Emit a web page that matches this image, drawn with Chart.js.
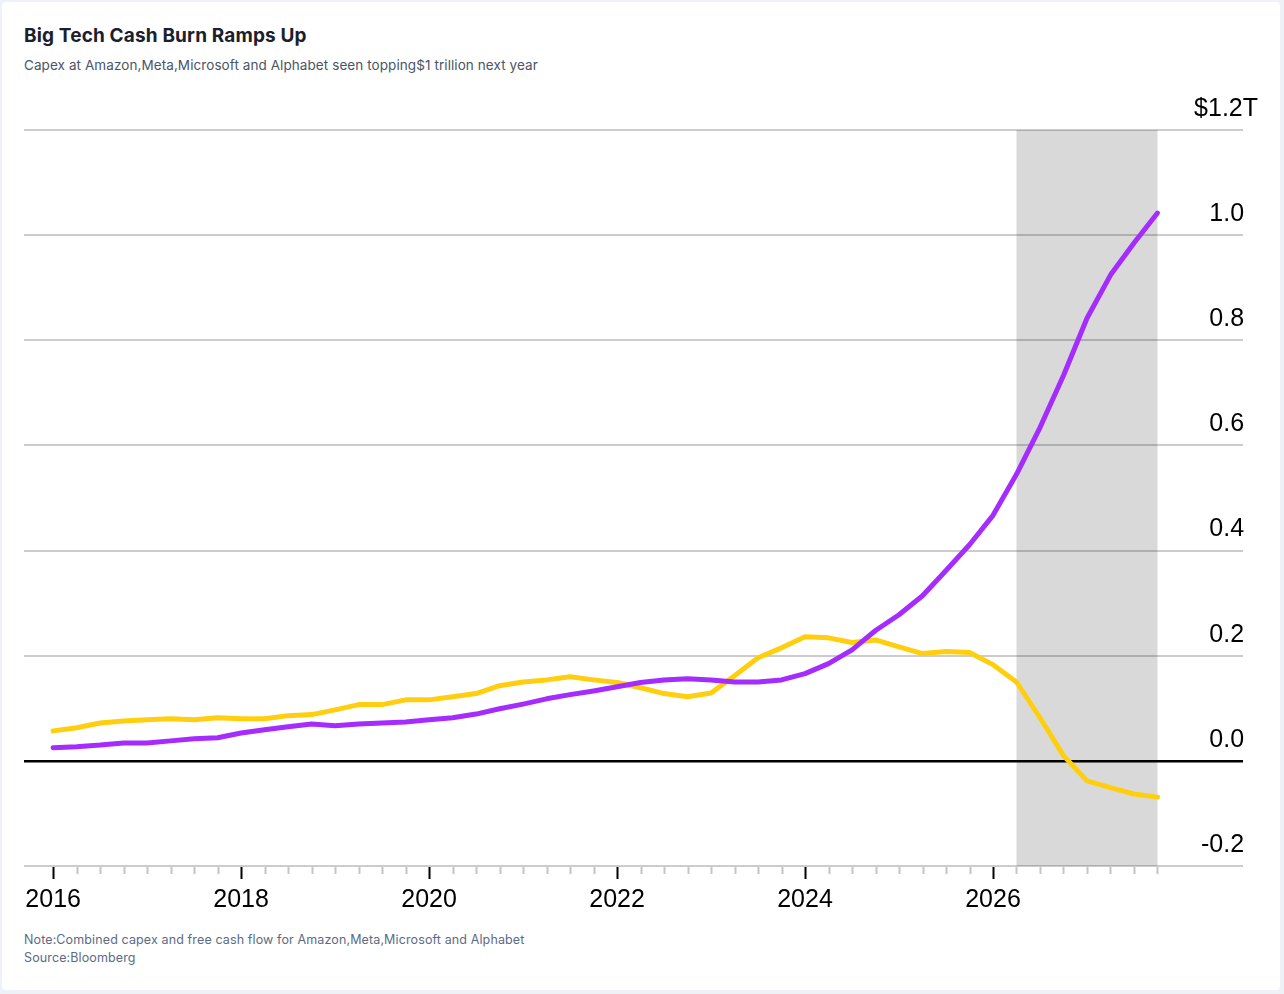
<!DOCTYPE html>
<html lang="en">
<head>
  <meta charset="UTF-8">
  <title>Big Tech Cash Burn Ramps Up</title>
  <script src="https://cdn.jsdelivr.net/npm/chart.js@4.4.0/dist/chart.umd.min.js"></script>
  <style>
    html, body { margin: 0; padding: 0; background: #eef1f5; }
    .card {
      position: absolute; left: 2px; top: 2px; width: 1278px; height: 988px;
      background: #fff; border-radius: 4px; overflow: hidden;
    }
    .txt { position: absolute; left: 22px; font-family: Inter, "Noto Sans", sans-serif; white-space: nowrap; }
    .title { top: 22px; font-size: 19px; line-height: 24px; font-weight: 700; color: #1a202c; letter-spacing: 0.15px; }
    .sub { top: 55px; font-size: 13.5px; line-height: 16px; color: #4a5568; letter-spacing: 0.08px; }
    .note { top: 930px; font-size: 12.5px; line-height: 16px; color: #5b6b86; letter-spacing: 0.12px; }
    .src { top: 948px; font-size: 12.5px; line-height: 16px; color: #5b6b86; letter-spacing: 0.12px; }
    .wrap { position: absolute; left: -2px; top: 88px; width: 1284px; height: 844px; }
  </style>
</head>
<body>
  <div class="card">
    <div class="txt title">Big Tech Cash Burn Ramps Up</div>
    <div class="txt sub">Capex at Amazon,Meta,Microsoft and Alphabet seen topping$1 trillion next year</div>
    <div class="txt note">Note:Combined capex and free cash flow for Amazon,Meta,Microsoft and Alphabet</div>
    <div class="txt src">Source:Bloomberg</div>
    <div class="wrap"><canvas id="chart"></canvas></div>
  </div>
  <script>
    // quarters 2016 Q1 .. 2027 Q4
    const years = [2016, 2017, 2018, 2019, 2020, 2021, 2022, 2023, 2024, 2025, 2026, 2027];
    const quarters = years.flatMap(y => ['Q1', 'Q2', 'Q3', 'Q4'].map(q => y + ' ' + q));

    // $ trillions
    const capex = [
      0.025, 0.027, 0.030, 0.034,
      0.034, 0.038, 0.042, 0.044,
      0.053, 0.059, 0.065, 0.070,
      0.067, 0.070, 0.072, 0.074,
      0.078, 0.082, 0.089, 0.099,
      0.108, 0.118, 0.126, 0.133,
      0.141, 0.149, 0.154, 0.156,
      0.154, 0.150, 0.150, 0.154,
      0.166, 0.185, 0.211, 0.248,
      0.278, 0.314, 0.362, 0.411,
      0.467, 0.545, 0.634, 0.733,
      0.842, 0.924, 0.985, 1.042
    ];
    const freeCashFlow = [
      0.057, 0.063, 0.072, 0.076,
      0.078, 0.080, 0.078, 0.082,
      0.080, 0.080, 0.086, 0.088,
      0.097, 0.107, 0.107, 0.116,
      0.116, 0.122, 0.128, 0.143,
      0.150, 0.154, 0.160, 0.154,
      0.149, 0.139, 0.128, 0.122,
      0.129, 0.162, 0.196, 0.215,
      0.236, 0.234, 0.225, 0.230,
      0.217, 0.204, 0.208, 0.206,
      0.183, 0.150, 0.082, 0.010,
      -0.038, -0.051, -0.063, -0.069
    ];

    const xTickLabels = ['2016', '2018', '2020', '2022', '2024', '2026'];
    // the top label hangs "T" past the others, so plain numbers get two trailing spaces
    const yTickLabels = ['-0.2  ', '0.0  ', '0.2  ', '0.4  ', '0.6  ', '0.8  ', '1.0  ', '$1.2T'];
    const forecastStart = '2026 Q2';
    const forecastEnd = '2027 Q4';

    const toYear = q => {
      const [y, p] = q.split(' ');
      return +y + (+p.slice(1) - 1) / 4;
    };
    const pts = arr => arr.map((v, i) => ({ x: toYear(quarters[i]), y: v }));

    // grey band for the forecast period
    const forecastBand = {
      id: 'forecastBand',
      beforeDatasetsDraw(chart) {
        const { ctx, chartArea, scales: { x } } = chart;
        const x0 = x.getPixelForValue(toYear(forecastStart));
        const x1 = x.getPixelForValue(toYear(forecastEnd));
        ctx.save();
        ctx.fillStyle = 'rgba(0,0,0,0.15)';
        ctx.fillRect(x0, chartArea.top, x1 - x0, chartArea.bottom - chartArea.top);
        ctx.restore();
      }
    };

    // quarterly tick marks under the axis, long black ones on labelled years
    const quarterTicks = {
      id: 'quarterTicks',
      afterDraw(chart) {
        const { ctx, chartArea, scales: { x } } = chart;
        ctx.save();
        ctx.lineWidth = 2;
        quarters.forEach(q => {
          const v = toYear(q);
          const major = xTickLabels.includes(String(v));
          const px = Math.round(x.getPixelForValue(v)) + 0.5;
          ctx.strokeStyle = major ? '#000' : '#c4c4c4';
          ctx.beginPath();
          ctx.moveTo(px, chartArea.bottom + 1);
          ctx.lineTo(px, chartArea.bottom + (major ? 13 : 8));
          ctx.stroke();
        });
        ctx.restore();
      }
    };

    new Chart(document.getElementById('chart'), {
      type: 'line',
      data: {
        datasets: [
          {
            label: 'Capex',
            data: pts(capex),
            borderColor: '#a42cff',
            borderWidth: 5,
            pointRadius: 0,
            tension: 0,
            borderCapStyle: 'round',
            borderJoinStyle: 'round'
          },
          {
            label: 'Free cash flow',
            data: pts(freeCashFlow),
            borderColor: '#ffcf0f',
            borderWidth: 5,
            pointRadius: 0,
            tension: 0,
            borderCapStyle: 'round',
            borderJoinStyle: 'round'
          }
        ]
      },
      options: {
        responsive: true,
        maintainAspectRatio: false,
        animation: false,
        layout: { padding: { left: 24, right: 11, top: 40, bottom: 0 } },
        plugins: { legend: { display: false }, tooltip: { enabled: false } },
        scales: {
          x: {
            type: 'linear',
            min: 2015.69,
            max: 2028.66,
            afterBuildTicks: s => { s.ticks = xTickLabels.map(v => ({ value: +v })); },
            grid: { display: false, drawTicks: false },
            border: { display: false },
            ticks: {
              autoSkip: false,
              maxRotation: 0,
              padding: 19,
              color: '#000',
              font: { family: '"Liberation Sans", Arial, sans-serif', size: 25 },
              callback: v => String(v)
            }
          },
          y: {
            position: 'right',
            min: -0.2,
            max: 1.2,
            ticks: {
              stepSize: 0.2,
              mirror: true,
              padding: 15,
              labelOffset: -21,
              color: '#000',
              font: { family: '"Liberation Sans", Arial, sans-serif', size: 25 },
              callback: (v, i) => yTickLabels[i]
            },
            grid: {
              drawTicks: false,
              color: c => (Math.abs(c.tick.value) < 1e-9 ? '#000' : 'rgba(0,0,0,0.2)'),
              lineWidth: c => (Math.abs(c.tick.value) < 1e-9 ? 2.5 : 2)
            },
            border: { display: false }
          }
        }
      },
      plugins: [forecastBand, quarterTicks]
    });
  </script>
</body>
</html>
